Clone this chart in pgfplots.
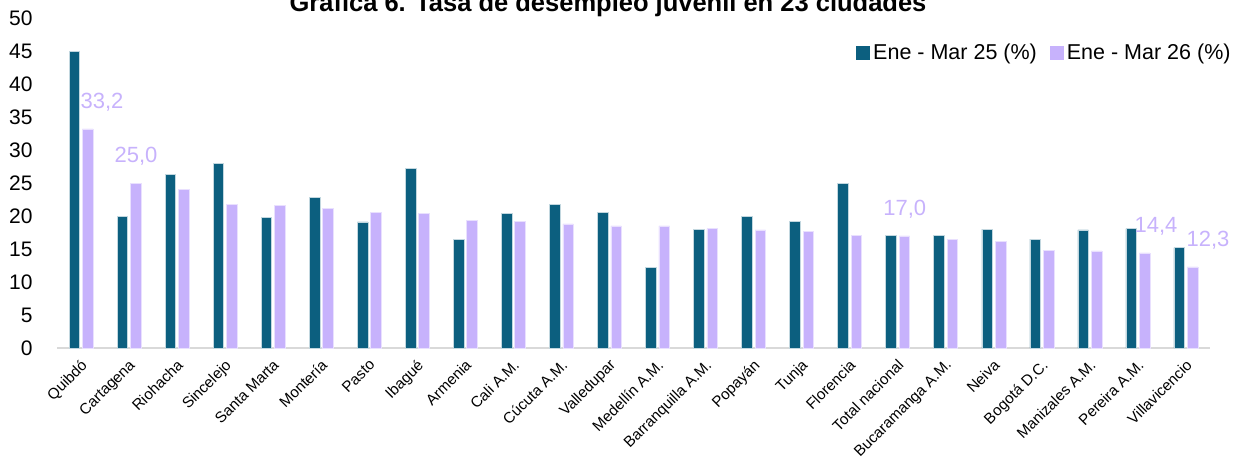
\documentclass[border=0pt]{standalone}
\usepackage{fontspec}
\setmainfont{Liberation Sans}
\usepackage{pgfplots}
\usepackage{pgfplotstable}
\pgfplotsset{compat=1.18}
\definecolor{dark}{RGB}{12,95,127}
\definecolor{lav}{RGB}{199,178,252}
\definecolor{axgray}{RGB}{217,217,217}

\pgfplotstableread{
x a b
0 44.9 33.2
1 19.9 25.0
2 26.3 24.0
3 28.0 21.7
4 19.8 21.6
5 22.8 21.2
6 19.1 20.6
7 27.2 20.4
8 16.5 19.3
9 20.4 19.2
10 21.7 18.8
11 20.5 18.5
12 12.2 18.5
13 18.0 18.1
14 20.0 17.9
15 19.2 17.7
16 25.0 17.1
17 17.1 17.0
18 17.1 16.5
19 18.0 16.2
20 16.5 14.8
21 17.9 14.7
22 18.1 14.4
23 15.2 12.3
}\datatable

\begin{document}
\begin{tikzpicture}
\begin{axis}[
  at={(28.5pt,57.5pt)}, anchor=south west,
  width=576.5pt, height=165pt, scale only axis,
  xmin=-0.5, xmax=23.5, ymin=0, ymax=50,
  ybar, bar width=5.3pt,
  ytick={0,5,...,50},
  xtick={0,...,23},
  xticklabels={Quibdó,Cartagena,Riohacha,Sincelejo,Santa Marta,Montería,Pasto,Ibagué,Armenia,Cali A.M.,Cúcuta A.M.,Valledupar,Medellín A.M.,Barranquilla A.M.,Popayán,Tunja,Florencia,Total nacional,Bucaramanga A.M.,Neiva,Bogotá D.C.,Manizales A.M.,Pereira A.M.,Villavicencio},
  axis x line=bottom, axis y line=left,
  x axis line style={draw=axgray, line width=0.75pt, -},
  y axis line style={draw=none},
  major tick length=0pt, tick style={draw=none},
  /pgf/number format/assume math mode=true,
  yticklabel style={font=\fontsize{10.5}{12}\selectfont, anchor=east, inner sep=0pt, xshift=-12pt},
  xticklabel style={font=\fontsize{7.6}{9}\selectfont, inner sep=0pt, xshift=-0.5pt, yshift=-5pt, rotate=45, anchor=north east},
  legend columns=2,
  legend style={at={(1.0208,0.894)}, anchor=east, draw=none, fill=none, inner sep=0pt,
    font=\fontsize{10.75}{12}\selectfont,
    /tikz/every even column/.append style={column sep=5pt},
    nodes={inner xsep=1.5pt, inner ysep=1pt}},
  legend image code/.code={\draw[#1, draw=none] (0pt,-3.5pt) rectangle (7pt,3.5pt);},
  clip=false,
]
\addplot[fill=dark, draw=white!75!dark, line width=0.3pt, bar shift=-3.35pt] table[x=x,y=a] {\datatable};
\addlegendentry{Ene - Mar 25 (\%)}
\addplot[fill=lav, draw=white!60!lav, line width=0.3pt, bar shift=3.35pt] table[x=x,y=b] {\datatable};
\addlegendentry{Ene - Mar 26 (\%)}
\tikzset{lab/.style={text=lav, font=\fontsize{11}{12}\selectfont, anchor=center, yshift=13.3pt}}
\node[lab] at (axis cs:0.4375,33.2) {33,2};
\node[lab] at (axis cs:1.146,25.0) {25,0};
\node[lab] at (axis cs:17.146,17.0) {17,0};
\node[lab] at (axis cs:22.375,14.4) {14,4};
\node[lab] at (axis cs:23.458,12.3) {12,3};
\end{axis}
\node[font=\bfseries\fontsize{12.75}{15}\selectfont, anchor=base] at (304pt,226pt) {Gráfica 6. Tasa de desempleo juvenil en 23 ciudades};
\pgfresetboundingbox
\path (0,0) rectangle (622pt,231.5pt);
\end{tikzpicture}
\end{document}
